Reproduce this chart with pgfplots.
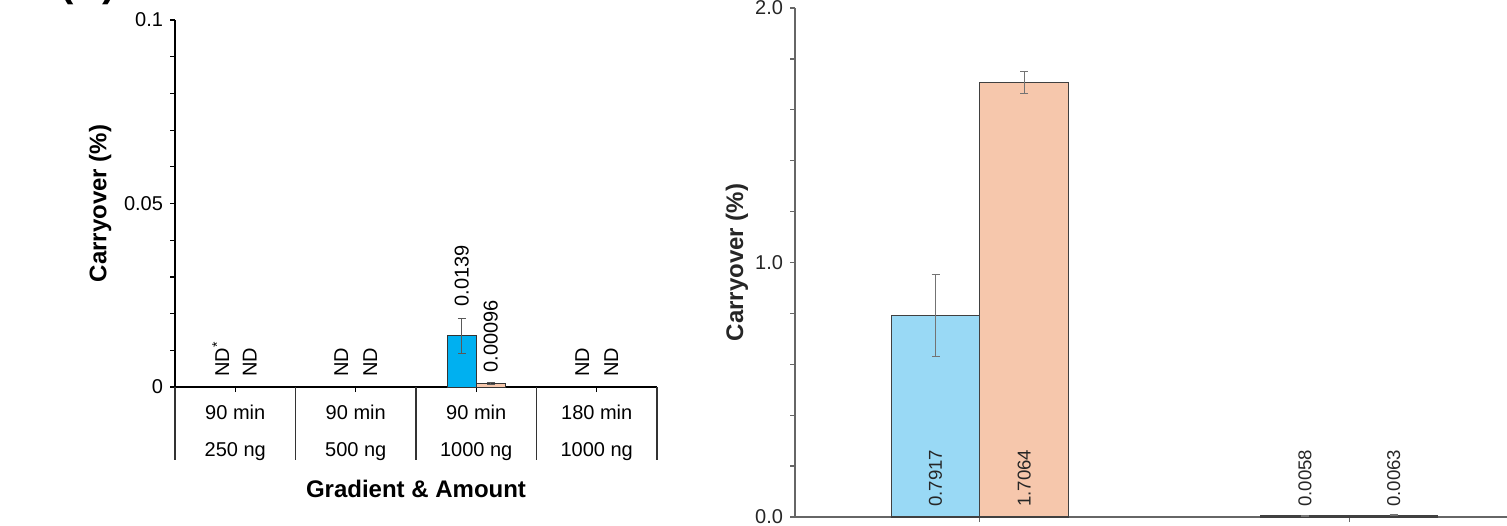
\documentclass[border=0pt]{standalone}
\usepackage{fontspec}
\setmainfont{Liberation Sans}
\usepackage{pgfplots}
\pgfplotsset{compat=1.18}
\definecolor{cblue}{HTML}{00B0F0}
\definecolor{lblue}{HTML}{99D9F5}
\definecolor{corange}{HTML}{F6C7AC}
\definecolor{axgray}{HTML}{666666}
\begin{document}
\begin{tikzpicture}
\pgfplotsset{/pgf/number format/assume math mode=true}
% ---------------- left panel ----------------
\begin{axis}[
  at={(87.5pt,69pt)}, anchor=south west,
  scale only axis, width=241pt, height=183.5pt,
  xmin=0.5, xmax=4.5, ymin=0, ymax=0.1,
  ybar=0pt, bar width=14.5pt,
  axis lines*=left, axis line style={black, line width=0.6pt},
  clip=false,
  xtick={1,2,3,4},
  xticklabels={{90 min\\[6.5pt]250 ng},{90 min\\[6.5pt]500 ng},{90 min\\[6.5pt]1000 ng},{180 min\\[6.5pt]1000 ng}},
  xticklabel style={align=center, font=\fontsize{10}{12}\selectfont, yshift=-3pt},
  ytick={0,0.05,0.1}, yticklabels={0,0.05,0.1},
  minor y tick num=4,
  tick align=outside, major tick length=2.5pt, minor tick length=2.5pt,
  tick style={black, line width=0.6pt},
  yticklabel style={font=\fontsize{10}{12}\selectfont},
  ylabel={Carryover (\%)},
  ylabel style={at={(axis description cs:-0.155,0.5)}, anchor=center, font=\fontsize{12}{14}\selectfont\bfseries},
  xlabel={Gradient \& Amount},
  xlabel style={at={(axis description cs:0.5,-0.278)}, anchor=center, font=\fontsize{12}{14}\selectfont\bfseries},
]
\addplot[fill=cblue, draw=black!80, line width=0.5pt,
  error bars/.cd, y dir=both, y explicit,
  error bar style={black!65, line width=0.5pt}, error mark options={rotate=90, black!65, mark size=2pt, line width=0.5pt}]
  coordinates {(3,0.0139) +- (0,0.0047)};
\addplot[fill=corange, draw=black!80, line width=0.5pt,
  error bars/.cd, y dir=both, y explicit,
  error bar style={black!65, line width=0.5pt}, error mark options={rotate=90, black!65, mark size=2pt, line width=0.5pt}]
  coordinates {(3,0.00096) +- (0,0.0003)};
% category table separators
\pgfplotsinvokeforeach{0.5,1.5,2.5,3.5,4.5}{
  \draw[black!80, line width=0.6pt] (axis cs:#1,0) -- (axis cs:#1,-0.0199);
}
% value labels
\begin{scope}[every node/.style={rotate=90, anchor=west, inner sep=0pt, font=\fontsize{10}{12}\selectfont}]
\node at (axis cs:0.88,0.0027) {ND\textsuperscript{*}};
\node at (axis cs:1.12,0.0027) {ND};
\node at (axis cs:1.88,0.0027) {ND};
\node at (axis cs:2.12,0.0027) {ND};
\node at (axis cs:2.88,0.0218) {0.0139};
\node at (axis cs:3.12,0.0038) {0.00096};
\node at (axis cs:3.88,0.0027) {ND};
\node at (axis cs:4.12,0.0027) {ND};
\end{scope}
\end{axis}
% ---------------- right panel ----------------
\begin{axis}[
  at={(397.5pt,4pt)}, anchor=south west,
  scale only axis, width=369.5pt, height=254.5pt,
  xmin=0.5, xmax=2.5, ymin=0, ymax=2,
  ybar=0pt, bar width=44.25pt,
  axis lines*=left, axis line style={axgray, line width=0.7pt},
  clip=false,
  xtick={1,2}, xticklabels={},
  ytick={0,1,2}, yticklabels={0.0,1.0,2.0},
  minor y tick num=4,
  tick align=outside, major tick length=2.5pt, minor tick length=2.5pt,
  tick style={axgray, line width=0.7pt},
  yticklabel style={font=\fontsize{10}{12}\selectfont, text=black!85},
  ylabel={Carryover (\%)},
  ylabel style={at={(axis description cs:-0.0785,0.5)}, anchor=center, font=\fontsize{12}{14}\selectfont\bfseries, text=black!85},
]
\addplot[fill=lblue, draw=black!75, line width=0.6pt,
  error bars/.cd, y dir=both, y explicit,
  error bar style={black!55, line width=0.5pt}, error mark options={rotate=90, black!55, mark size=2pt, line width=0.5pt}]
  coordinates {(1,0.7917) +- (0,0.161) (2,0.0058) +- (0,0.002)};
\addplot[fill=corange, draw=black!75, line width=0.6pt,
  error bars/.cd, y dir=both, y explicit,
  error bar style={black!55, line width=0.5pt}, error mark options={rotate=90, black!55, mark size=2pt, line width=0.5pt}]
  coordinates {(1,1.7064) +- (0,0.043) (2,0.0063) +- (0,0.002)};
\begin{scope}[every node/.style={rotate=90, anchor=west, inner sep=0pt, font=\fontsize{9.3}{11}\selectfont, text=black!85}]
\node at (axis cs:0.88,0.039) {0.7917};
\node at (axis cs:1.12,0.039) {1.7064};
\node at (axis cs:1.88,0.039) {0.0058};
\node at (axis cs:2.12,0.039) {0.0063};
\end{scope}
\end{axis}
\node[anchor=base west, inner sep=0pt, font=\fontsize{20}{24}\selectfont\bfseries] at (30pt,264pt) {(A)};
\pgfresetboundingbox
\path[use as bounding box] (0,0) rectangle (753.5pt,262.5pt);
\end{tikzpicture}
\end{document}
